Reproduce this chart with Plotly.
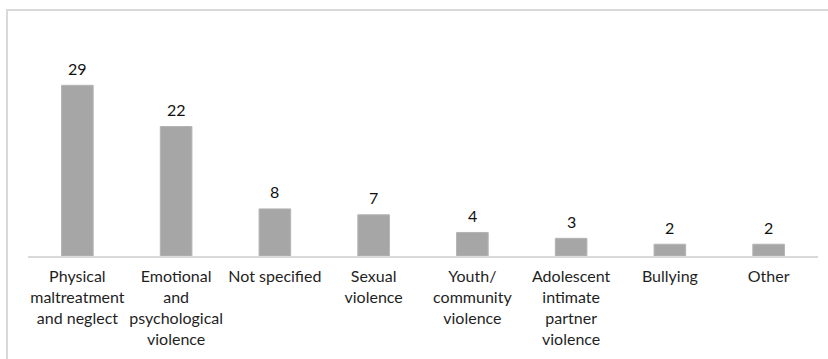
import plotly.graph_objects as go

categories = [
    "Physical<br>maltreatment<br>and neglect",
    "Emotional<br>and<br>psychological<br>violence",
    "Not specified",
    "Sexual<br>violence",
    "Youth/<br>community<br>violence",
    "Adolescent<br>intimate<br>partner<br>violence",
    "Bullying",
    "Other",
]
values = [29, 22, 8, 7, 4, 3, 2, 2]

fig = go.Figure()
fig.add_trace(go.Bar(
    x=categories, y=values,
    marker=dict(color="#a6a6a6", line=dict(color="#b4b4b4", width=1)),
    width=0.32,
))

for c, v in zip(categories, values):
    fig.add_annotation(x=c, y=v, text=str(v), showarrow=False,
                       yanchor="middle", yshift=17,
                       font=dict(family="Lato", size=16, color="#111111"))

L, R, T, B = 28, 10, 50, 103
W, H = 828, 359
pw, ph = W - L - R, H - T - B
fig.add_shape(type="rect", xref="paper", yref="paper",
              x0=(7 - L) / pw, x1=(W + 20 - L) / pw,
              y0=-(H + 20 - T - ph) / ph, y1=1 + (T - 10) / ph,
              line=dict(color="#d9d9d9", width=2), fillcolor="rgba(0,0,0,0)",
              layer="below")

fig.update_layout(
    width=W, height=H,
    margin=dict(l=L, r=R, t=T, b=B),
    paper_bgcolor="white", plot_bgcolor="white",
    showlegend=False,
    xaxis=dict(showline=True, linecolor="#d9d9d9", linewidth=2,
               ticks="", tickangle=0,
               tickfont=dict(family="Lato", size=16, color="#1f1f1f"),
               ticklabelstandoff=5),
    yaxis=dict(range=[0, 35], visible=False),
)

fig.write_html("out.html")
